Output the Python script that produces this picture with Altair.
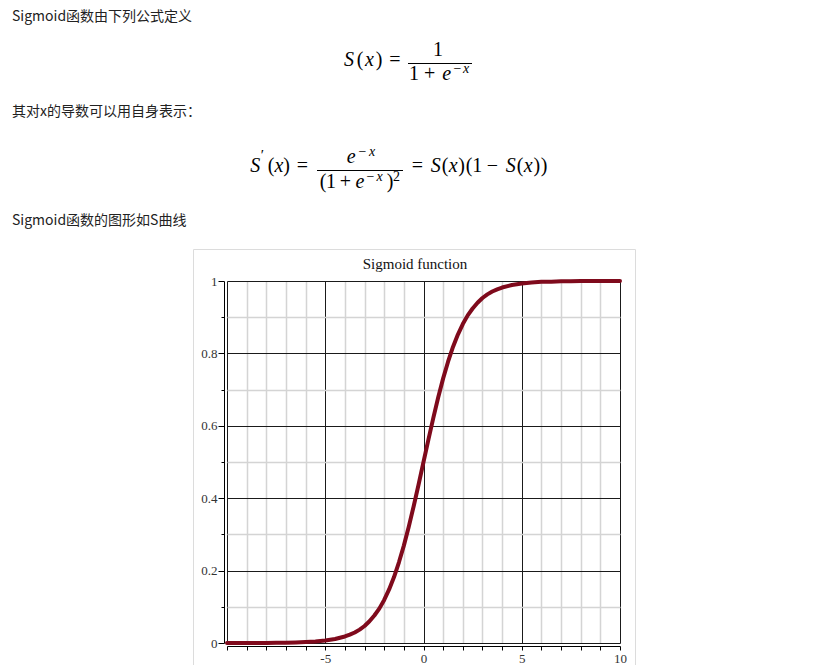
import altair as alt
import pandas as pd

# ---------------- data ----------------
curve_x = [-10, -9.5, -9, -8.5, -8, -7.5, -7, -6.5, -6, -5.5, -5, -4.5, -4,
           -3.75, -3.5, -3.25, -3, -2.75, -2.5, -2.25, -2, -1.75, -1.5, -1.25,
           -1, -0.75, -0.5, -0.25, 0, 0.25, 0.5, 0.75, 1, 1.25, 1.5, 1.75, 2,
           2.25, 2.5, 2.75, 3, 3.25, 3.5, 3.75, 4, 4.5, 5, 5.5, 6, 6.5, 7, 7.5,
           8, 8.5, 9, 9.5, 10]
curve_y = [0.00005, 0.00007, 0.00012, 0.0002, 0.00034, 0.00055, 0.0009, 0.0015,
           0.0025, 0.0041, 0.0067, 0.011, 0.018, 0.023, 0.029, 0.037, 0.047,
           0.060, 0.076, 0.095, 0.119, 0.148, 0.182, 0.223, 0.269, 0.321, 0.378,
           0.438, 0.5, 0.562, 0.622, 0.679, 0.731, 0.777, 0.818, 0.852, 0.881,
           0.905, 0.924, 0.940, 0.953, 0.963, 0.971, 0.977, 0.982, 0.989, 0.993,
           0.996, 0.998, 0.998, 0.999, 0.999, 1.0, 1.0, 1.0, 1.0, 1.0]

x_tick_values = [-10, -9, -8, -7, -6, -5, -4, -3, -2, -1, 0, 1, 2, 3, 4, 5, 6, 7, 8, 9, 10]
y_tick_values = [0, 0.1, 0.2, 0.3, 0.4, 0.5, 0.6, 0.7, 0.8, 0.9, 1]

chart_title = "Sigmoid function"
text_lines = ["Sigmoid函数由下列公式定义", "其对x的导数可以用自身表示：", "Sigmoid函数的图形如S曲线"]

# formula glyphs (content)
f1_glyphs = ["S", "(", "x", ")", "=", "1", "1", "+", "e", "−", "x"]
f2_glyphs = ["S", "′", "(", "x", ")", "=",
             "e", "−", "x",
             "(", "1", "+", "e", "−", "x", ")", "2",
             "=", "S", "(", "x", ")", "(", "1", "−", "S", "(", "x", ")", ")"]

# ---------------- layout (page pixel positions) ----------------
OX, OY = 227, 281          # page position of the plot area's top-left corner
PLOT_W, PLOT_H = 393, 362

text_line_layout = [(12, 20.5, 14), (12, 115.5, 14), (12, 225, 14)]

M, S = 20, 14   # main / superscript font sizes
# (center x, baseline y, italic, font size)
f1_layout = [(349, 66, True, M), (360, 66, False, M), (369.5, 66, True, M),
             (379, 66, False, M), (395, 66, False, M),
             (438, 56, False, M),
             (414, 80, False, M), (429.7, 80, False, M), (446.7, 80, True, M),
             (457.5, 73, False, S), (466, 73, True, S)]
R = 171.5
f2_layout = [(255.3, R, True, M), (262.5, 160, False, 15), (271, R, False, M),
             (279, R, True, M), (286.5, R, False, M), (302.5, R, False, M),
             (351.3, 163, True, M), (362.5, 156, False, S), (372, 156, True, S),
             (323, 188, False, M), (331, 188, False, M), (345.5, 188, False, M),
             (360, 188, True, M), (370.5, 181, False, S), (379.5, 181, True, S),
             (390, 188, False, M), (396.5, 181, False, S),
             (417.5, R, False, M), (435.8, R, True, M), (445, R, False, M),
             (453.3, R, True, M), (461.5, R, False, M), (469.2, R, False, M),
             (477.3, R, False, M), (492.5, R, False, M), (510.8, R, True, M),
             (520, R, False, M), (528.3, R, True, M), (536.8, R, False, M),
             (544.2, R, False, M)]
fraction_bars = [(408, 472, 63.5), (317, 403, 170.5)]

MATH_FONT = "Liberation Serif"
CJK_FONT = "Noto Sans CJK SC"
one = alt.Data(values=[{"k": 0}])


def glyph(t, cx, by, italic, size, font=MATH_FONT, align="center", color="#000"):
    return alt.Chart(one).mark_text(
        text=t, font=font, fontSize=size, fontStyle="italic" if italic else "normal",
        align=align, baseline="alphabetic", color=color
    ).encode(x=alt.value(cx - OX), y=alt.value(by - OY))


layers = []

# light frame around the figure
layers.append(
    alt.Chart(one).mark_rect(fillOpacity=0, stroke="#dcdcdc", strokeWidth=1).encode(
        x=alt.value(193.5 - OX), x2=alt.value(635.5 - OX),
        y=alt.value(249.5 - OY), y2=alt.value(700 - OY)
    )
)

major_x = "datum.value % 5 === 0"
major_y = "round(datum.value * 10) % 2 === 0"

curve_df = pd.DataFrame({"x": curve_x, "y": curve_y})
curve = alt.Chart(curve_df).mark_line(
    color="#7f0a1c", strokeWidth=4, strokeCap="round", strokeJoin="round"
).encode(
    x=alt.X("x:Q", title=None,
            scale=alt.Scale(domain=[-10, 10], nice=False, zero=False),
            axis=alt.Axis(
                values=x_tick_values, offset=3, domainColor="#000", domainWidth=1,
                tickColor="#000", tickSize=4, tickWidth=1,
                grid=True,
                gridColor={"condition": {"test": major_x, "value": "#1a1a1a"}, "value": "#d4d4d4"},
                gridWidth={"condition": {"test": major_x, "value": 1}, "value": 1.5},
                labelExpr="(datum.value % 5 === 0 && datum.value > -10) ? '' + datum.value : ''",
                labelFont=MATH_FONT, labelFontSize=13, labelColor="#333",
                labelPadding=2, labelOverlap=False, labelFlush=False)),
    y=alt.Y("y:Q", title=None,
            scale=alt.Scale(domain=[0, 1], nice=False, zero=False),
            axis=alt.Axis(
                values=y_tick_values, offset=3, domainColor="#000", domainWidth=1,
                tickColor="#000", tickWidth=1,
                tickSize={"condition": {"test": major_y, "value": 6}, "value": 3},
                grid=True,
                gridColor={"condition": {"test": major_y, "value": "#1a1a1a"}, "value": "#d4d4d4"},
                gridWidth={"condition": {"test": major_y, "value": 1}, "value": 1.5},
                labelExpr="round(datum.value * 10) % 2 === 0 ? '' + datum.value : ''",
                labelFont=MATH_FONT, labelFontSize=13, labelColor="#333",
                labelPadding=1, labelOverlap=False, labelFlush=False)),
)
layers.append(curve)

# chart title
layers.append(glyph(chart_title, 415, 268.5, False, 15, color="#111"))

# text lines
for t, (lx, by, size) in zip(text_lines, text_line_layout):
    layers.append(glyph(t, lx, by, False, size, font=CJK_FONT, align="left", color="#222"))

# formulas
for t, (cx, by, it, size) in zip(f1_glyphs, f1_layout):
    layers.append(glyph(t, cx, by, it, size))
for t, (cx, by, it, size) in zip(f2_glyphs, f2_layout):
    layers.append(glyph(t, cx, by, it, size))
for (x1, x2, yb) in fraction_bars:
    layers.append(
        alt.Chart(one).mark_rule(color="#000", strokeWidth=1).encode(
            x=alt.value(x1 - OX), x2=alt.value(x2 - OX), y=alt.value(yb - OY)
        )
    )

chart = alt.layer(*layers).properties(
    width=PLOT_W, height=PLOT_H,
    padding={"left": OX - 8, "top": OY - 8, "right": 30, "bottom": 22},
    autosize=alt.AutoSizeParams(type="none"),
    background="white",
).configure_view(strokeWidth=0)

chart.save("out.html", embed_options={"renderer": "svg", "actions": False})
